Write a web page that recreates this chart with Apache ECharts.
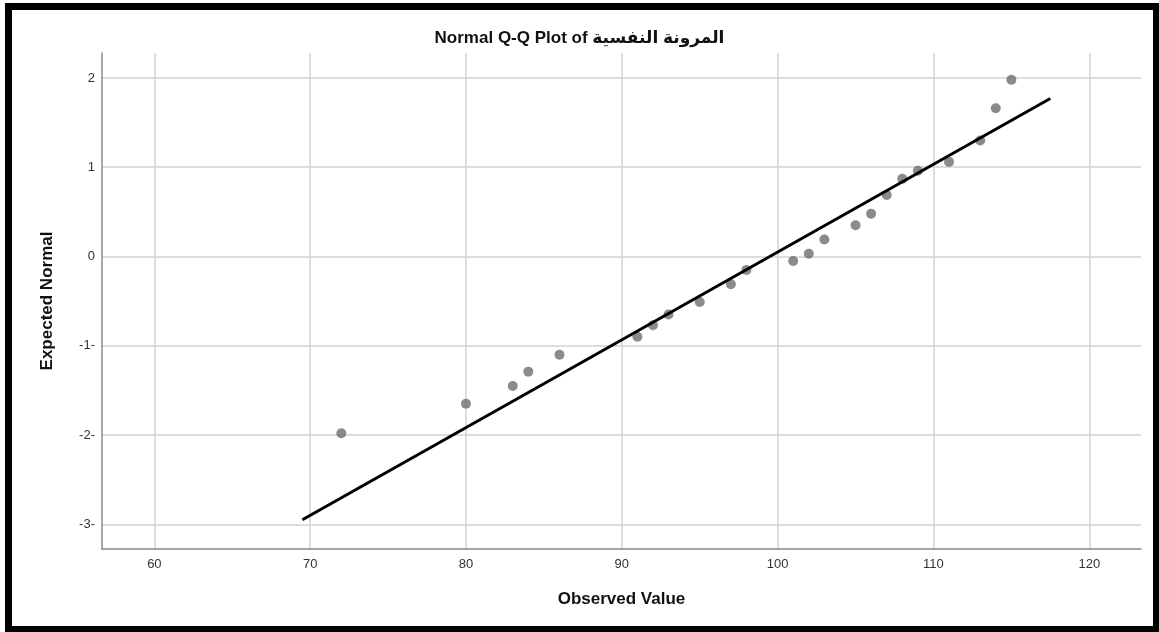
<!DOCTYPE html>
<html lang="en">
<head>
    <meta charset="utf-8">
    <title>Normal Q-Q Plot</title>
    <script src="https://cdn.jsdelivr.net/npm/echarts@6/dist/echarts.min.js"></script>
    <style>
        html, body { margin: 0; padding: 0; background: #fff; }
        #main { width: 1159px; height: 632px; }
    </style>
</head>
<body>
<div id="main"></div>
<script type="text/javascript">
// observed values and their expected normal scores
var observed = [72, 80, 83, 84, 86, 91, 92, 93, 95, 97, 98, 101, 102, 103, 105, 106, 107, 108, 109, 111, 113, 114, 115];
var expected = [-1.98, -1.65, -1.45, -1.29, -1.10, -0.90, -0.77, -0.65, -0.51, -0.31, -0.15, -0.05, 0.03, 0.19, 0.35, 0.48, 0.69, 0.87, 0.96, 1.06, 1.30, 1.66, 1.98];
// reference line end points
var lineX = [69.5, 117.5];
var lineY = [-2.95, 1.77];
var xTicks = [60, 70, 80, 90, 100, 110, 120];
var yTicks = [-3, -2, -1, 0, 1, 2];

var font = 'Liberation Sans, DejaVu Sans, Arial, sans-serif';

var points = [];
for (var i = 0; i < observed.length; i++) {
    points.push([observed[i], expected[i]]);
}
var linePts = [[lineX[0], lineY[0]], [lineX[1], lineY[1]]];

var myChart = echarts.init(document.getElementById('main'));
var option = {
    animation: false,
    backgroundColor: '#fff',
    title: {
        text: 'Normal Q-Q Plot of المرونة النفسية',
        left: 'center',
        top: 25,
        textStyle: { fontFamily: font, fontSize: 17, fontWeight: 'bold', color: '#111' }
    },
    graphic: [{
        type: 'rect',
        silent: true,
        shape: { x: 8.5, y: 6.5, width: 1148, height: 623 },
        style: { fill: 'none', stroke: '#000', lineWidth: 7 }
    }],
    grid: { left: 102, top: 53, right: 18, bottom: 83 },
    xAxis: {
        type: 'value',
        min: 56.64,
        max: 123.32,
        name: 'Observed Value',
        nameLocation: 'middle',
        nameGap: 42,
        nameTextStyle: { fontFamily: font, fontSize: 17, fontWeight: 'bold', color: '#111' },
        axisLine: { onZero: false, lineStyle: { color: '#8a8a8a', width: 1.5 } },
        axisTick: { show: false, customValues: xTicks },
        axisLabel: { customValues: xTicks, fontFamily: font, fontSize: 13, color: '#333', margin: 9 },
        splitLine: { show: true, lineStyle: { color: '#d2d2d2', width: 1.5 } }
    },
    yAxis: {
        type: 'value',
        min: -3.277,
        max: 2.28,
        name: 'Expected Normal',
        nameLocation: 'middle',
        nameGap: 46,
        nameTextStyle: { fontFamily: font, fontSize: 17, fontWeight: 'bold', color: '#111' },
        axisLine: { show: true, onZero: false, lineStyle: { color: '#8a8a8a', width: 1.5 } },
        axisTick: { show: false, customValues: yTicks },
        axisLabel: {
            customValues: yTicks,
            fontFamily: font, fontSize: 13, color: '#333', margin: 7,
            formatter: function (v) { return v < 0 ? v + '-' : '' + v; }
        },
        splitLine: { show: true, lineStyle: { color: '#d2d2d2', width: 1.5 } }
    },
    series: [{
        type: 'line',
        data: linePts,
        symbol: 'none',
        lineStyle: { color: '#000', width: 3 },
        z: 3
    }, {
        type: 'scatter',
        data: points,
        symbolSize: 10,
        itemStyle: { color: '#6e6e6e' },
        z: 2
    }]
};
myChart.setOption(option);
</script>
</body>
</html>
